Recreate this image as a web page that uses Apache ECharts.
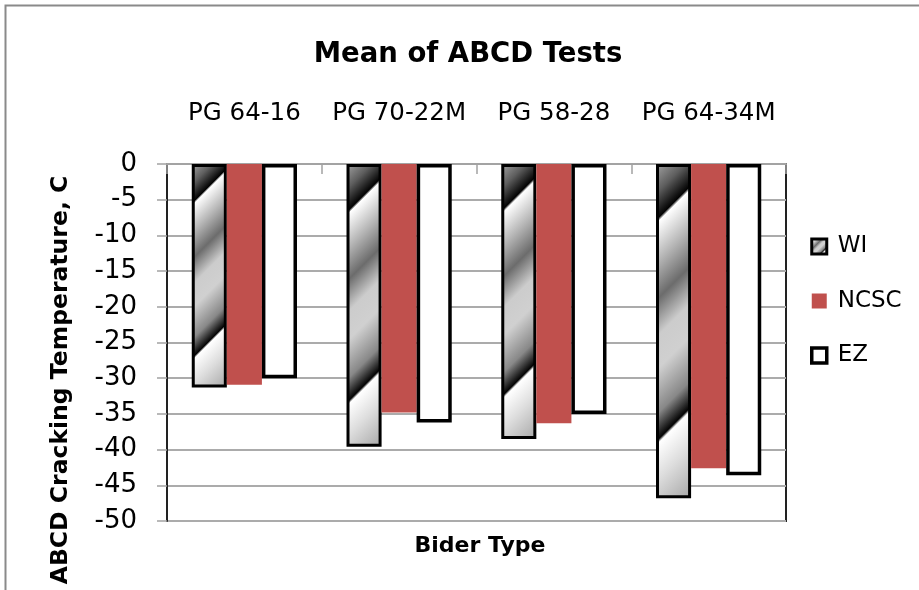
<!DOCTYPE html>
<html>
<head>
<meta charset="utf-8">
<script src="https://cdn.jsdelivr.net/npm/echarts@6/dist/echarts.min.js"></script>
<style>
  html, body { margin: 0; padding: 0; background: #ffffff; }
  #chart { width: 919px; height: 590px; }
</style>
</head>
<body>
<div id="chart"></div>
<script>
// Binder grades along the category axis
const binderTypes = ['PG 64-16', 'PG 70-22M', 'PG 58-28', 'PG 64-34M'];
// Series names (legend)
const seriesNames = ['WI', 'NCSC', 'EZ'];
// Mean ABCD cracking temperatures, °C
const wiValues   = [-31.3, -39.6, -38.5, -46.8];
const ncscValues = [-30.9, -34.8, -36.3, -42.6];
const ezValues   = [-30.0, -36.2, -35.0, -43.6];
// Value axis range and step
const tempMin = -50;
const tempMax = 0;
const tempStep = 5;

const FONT = '"DejaVu Sans", sans-serif';

// Chrome-like diagonal shading used by the WI bars (offsets along the bar's diagonal)
const chromeStops = [
  { offset: 0.00, color: '#a4a4a4' },
  { offset: 0.08, color: '#5e5e5e' },
  { offset: 0.152, color: '#030303' },
  { offset: 0.162, color: '#ffffff' },
  { offset: 0.27, color: '#b4b4b4' },
  { offset: 0.37, color: '#6c6c6c' },
  { offset: 0.47, color: '#cccccc' },
  { offset: 0.56, color: '#d0d0d0' },
  { offset: 0.68, color: '#888888' },
  { offset: 0.752, color: '#030303' },
  { offset: 0.762, color: '#ffffff' },
  { offset: 0.86, color: '#dddddd' },
  { offset: 1.00, color: '#a6a6a6' }
];

const chart = echarts.init(document.getElementById('chart'), null, { renderer: 'canvas' });

const option = {
  animation: false,
  backgroundColor: '#ffffff',
  title: {
    text: 'Mean of ABCD Tests',
    left: 463,
    top: 36,
    textAlign: 'center',
    textStyle: { fontFamily: FONT, fontWeight: 'bold', fontSize: 27.5, color: '#000000' }
  },
  legend: {
    orient: 'vertical',
    left: 810,
    top: 235,
    padding: 0,
    icon: 'rect',
    itemWidth: 15,
    itemHeight: 15,
    itemGap: 31.5,
    data: [
      { name: seriesNames[0], itemStyle: { borderColor: '#000000', borderWidth: 3 } },
      { name: seriesNames[1], itemStyle: { borderWidth: 0 } },
      { name: seriesNames[2], itemStyle: { borderColor: '#000000', borderWidth: 3.5 } }
    ],
    textStyle: { fontFamily: FONT, fontSize: 23, color: '#000000', lineHeight: 23, padding: [0, 0, 0, 6] }
  },
  grid: {
    left: 167,
    right: 133,
    top: 164,
    bottom: 69,
    show: true,
    borderColor: '#222222',
    borderWidth: 2,
    backgroundColor: 'transparent'
  },
  xAxis: {
    type: 'category',
    position: 'top',
    data: binderTypes,
    axisLine: { show: true, lineStyle: { color: '#a3a3a3', width: 2 } },
    axisTick: { show: true, inside: true, length: 10, interval: 0, lineStyle: { color: '#a3a3a3', width: 1.5 } },
    axisLabel: { interval: 0, margin: 38, fontFamily: FONT, fontSize: 24.5, color: '#000000' },
    splitLine: { show: false }
  },
  yAxis: {
    type: 'value',
    min: tempMin,
    max: tempMax,
    interval: tempStep,
    axisLine: { show: true, lineStyle: { color: '#222222', width: 2 } },
    axisTick: { show: true, length: 10, lineStyle: { color: '#a3a3a3', width: 1.5 } },
    axisLabel: { margin: 30, fontFamily: FONT, fontSize: 26, color: '#000000' },
    splitLine: { show: true, lineStyle: { color: '#ababab', width: 2 } }
  },
  series: [
    {
      id: 'wi',
      name: seriesNames[0],
      type: 'bar',
      data: wiValues,
      barGap: '0%',
      barCategoryGap: '32%',
      itemStyle: {
        color: { type: 'linear', x: 0, y: 0, x2: 1, y2: 1, colorStops: chromeStops },
        borderColor: '#000000',
        borderWidth: 3
      }
    },
    {
      id: 'ncsc',
      name: seriesNames[1],
      type: 'bar',
      data: ncscValues,
      barGap: '0%',
      barCategoryGap: '32%',
      itemStyle: { color: '#c0504d', borderWidth: 0 }
    },
    {
      id: 'ez',
      name: seriesNames[2],
      type: 'bar',
      data: ezValues,
      barGap: '0%',
      barCategoryGap: '32%',
      itemStyle: { color: '#ffffff', borderColor: '#000000', borderWidth: 3.5 }
    }
  ],
  graphic: [
    {
      type: 'rect',
      silent: true,
      z: -10,
      shape: { x: 5.5, y: 5.5, width: 940, height: 620 },
      style: { fill: 'none', stroke: '#8a8a8a', lineWidth: 2 }
    },
    {
      type: 'text',
      silent: true,
      x: 61,
      y: 380,
      rotation: Math.PI / 2,
      style: {
        text: 'ABCD Cracking Temperature, C',
        fontFamily: FONT,
        fontWeight: 'bold',
        fontSize: 23.5,
        fill: '#000000',
        align: 'center',
        verticalAlign: 'middle'
      }
    },
    {
      type: 'text',
      silent: true,
      x: 480,
      y: 546,
      style: {
        text: 'Bider Type',
        fontFamily: FONT,
        fontWeight: 'bold',
        fontSize: 22,
        fill: '#000000',
        align: 'center',
        verticalAlign: 'middle'
      }
    }
  ]
};

chart.setOption(option);

// Give each WI bar its own 45° chrome shading, spanning the bar from corner to corner.
function applyChromeShading() {
  let data;
  try {
    data = chart.getModel().getSeriesByIndex(0).getData();
  } catch (e) {
    return;
  }
  const items = wiValues.map(function (v, i) {
    const l = data.getItemLayout(i);
    if (!l) return v;
    const x0 = Math.min(l.x, l.x + l.width);
    const y0 = Math.min(l.y, l.y + l.height);
    const w = Math.abs(l.width);
    const h = Math.abs(l.height);
    const d = (w + h) / 2;
    return {
      value: v,
      itemStyle: {
        color: { type: 'linear', global: true, x: x0, y: y0, x2: x0 + d, y2: y0 + d, colorStops: chromeStops }
      }
    };
  });
  chart.setOption({ series: [{ id: 'wi', data: items }] });
}
applyChromeShading();
</script>
</body>
</html>
